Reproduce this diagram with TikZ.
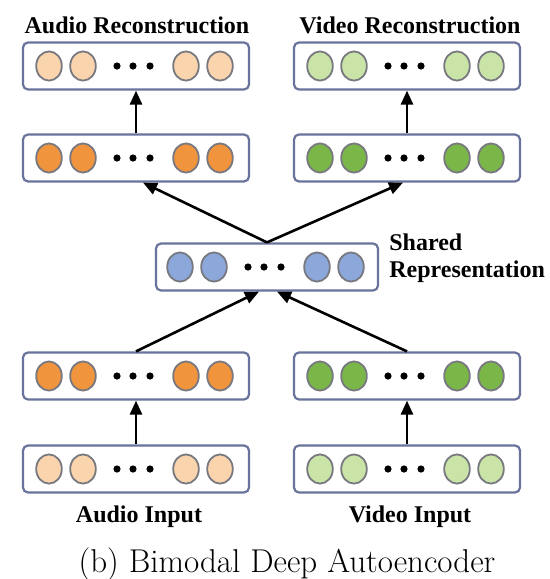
\documentclass[tikz,border=0pt]{standalone}
\usepackage{fontspec}
\newfontfamily\labelfont{Liberation Serif}
\usetikzlibrary{arrows.meta,positioning}
\definecolor{boxline}{RGB}{105,115,155}
\definecolor{unitline}{RGB}{120,120,128}
\definecolor{orangedk}{RGB}{240,148,62}
\definecolor{orangelt}{RGB}{250,212,172}
\definecolor{greendk}{RGB}{122,182,72}
\definecolor{greenlt}{RGB}{202,228,168}
\definecolor{bluemid}{RGB}{140,168,218}

\begin{document}
\begin{tikzpicture}[
  x=0.5pt,y=-0.5pt,
  layer/.style={draw=boxline, line width=1.1pt, rounded corners=2.5pt, fill=white, minimum width=113pt, minimum height=23.5pt, inner sep=0pt},
  unit/.style={draw=unitline, line width=0.9pt},
  lbl/.style={font=\labelfont\bfseries\fontsize{12}{13.5}\selectfont, inner sep=0pt},
  arr/.style={-{Triangle[length=7pt,width=6pt]}, line width=1.3pt}
]
\useasboundingbox (0,0) rectangle (550,579);
% layers
\node[layer] (arec) at (136,66) {};
\node[layer] (vrec) at (407,66) {};
\node[layer] (adec) at (136,158) {};
\node[layer] (vdec) at (407,158) {};
\node[layer, minimum width=111pt] (shared) at (267,267) {};
\node[layer] (aenc) at (136,376) {};
\node[layer] (venc) at (407,376) {};
\node[layer] (ain) at (136,469) {};
\node[layer] (vin) at (407,469) {};
% units and dots
\foreach \b/\c in {arec/orangelt, vrec/greenlt, adec/orangedk, vdec/greendk, shared/bluemid, aenc/orangedk, venc/greendk, ain/orangelt, vin/greenlt} {
  \foreach \dx in {-87,-53,50,84} \draw[unit, fill=\c] (\b) ++(\dx,0) ellipse [x radius=6.4pt, y radius=7.3pt];
  \foreach \dx in {-19,-3,14} \fill (\b) ++(\dx,0) circle [radius=1.8pt];
}
% labels
\node[lbl, anchor=base] (areclbl) at (137,33) {Audio Reconstruction};
\node[lbl, anchor=base] (vreclbl) at (410,33) {Video Reconstruction};
\node[lbl, align=left, anchor=west] (sharedlbl) at (389,258) {Shared\\Representation};
\node[lbl, anchor=base] (ainlbl) at (139,522) {Audio Input};
\node[lbl, anchor=base] (vinlbl) at (410,522) {Video Input};
\node[font=\fontsize{16.5}{18}\selectfont, inner sep=0pt, anchor=base] (caption) at (287,572) {(b) Bimodal Deep Autoencoder};
% connections
\draw[arr] (ain) -- (aenc);
\draw[arr] (vin) -- (venc);
\draw[arr] (aenc.north) -- ([xshift=-4pt]shared.south);
\draw[arr] (venc.north) -- ([xshift=5pt]shared.south);
\draw[arr] (shared.north) -- ([xshift=3.5pt]adec.south);
\draw[arr] (shared.north) -- ([xshift=-2pt]vdec.south);
\draw[arr] (adec) -- (arec);
\draw[arr] (vdec) -- (vrec);
\end{tikzpicture}
\end{document}
